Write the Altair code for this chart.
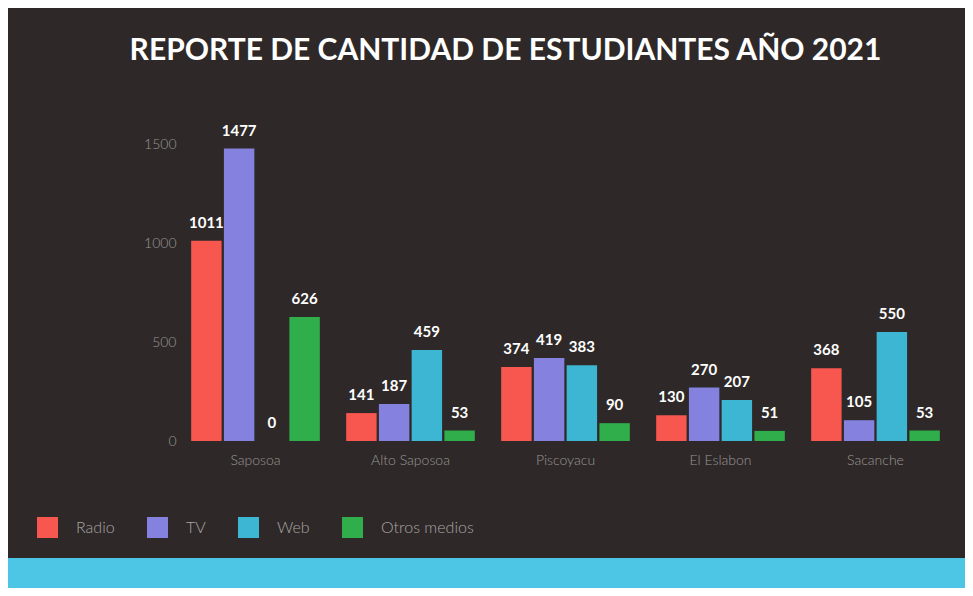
import altair as alt
import pandas as pd

categories = ["Saposoa", "Alto Saposoa", "Piscoyacu", "El Eslabon", "Sacanche"]
series = ["Radio", "TV", "Web", "Otros medios"]
radio = [1011, 141, 374, 130, 368]
tv = [1477, 187, 419, 270, 105]
web = [0, 459, 383, 207, 550]
otros = [626, 53, 90, 51, 53]
colors = ["#f7574f", "#8482de", "#3db6d3", "#2fae4b"]

rows = []
for i, c in enumerate(categories):
    for s, vals in zip(series, [radio, tv, web, otros]):
        rows.append({"Distrito": c, "Medio": s, "Cantidad": vals[i]})
df = pd.DataFrame(rows)

base = alt.Chart(df).encode(
    x=alt.X("Distrito:N", sort=categories,
            scale=alt.Scale(paddingInner=0.17, paddingOuter=0.085),
            axis=alt.Axis(title=None, labelAngle=0, labelColor="#9a9696", labelFontSize=14,
                          labelFont="Lato", labelFontWeight=300, labelPadding=12,
                          domain=False, ticks=False, grid=False)),
    xOffset=alt.XOffset("Medio:N", sort=series, scale=alt.Scale(paddingInner=0.07)),
)

bars = base.mark_bar().encode(
    y=alt.Y("Cantidad:Q", scale=alt.Scale(domain=[0, 1500], nice=False),
            axis=alt.Axis(title=None, values=[0, 500, 1000, 1500], format="d",
                          labelColor="#9a9696", labelFontSize=14, labelFont="Lato",
                          labelFontWeight=300, labelPadding=2, domain=False, ticks=False,
                          grid=False)),
    color=alt.Color("Medio:N", sort=series,
                    scale=alt.Scale(domain=series, range=colors),
                    legend=alt.Legend(title=None, orient="none", direction="horizontal",
                                      legendX=-141, legendY=373, symbolType="square",
                                      symbolSize=441, symbolStrokeWidth=0, symbolOpacity=1,
                                      labelColor="#a8a4a4", labelFontSize=16, labelFont="Lato",
                                      labelFontWeight=300, labelOffset=18, columnPadding=32)),
)

labels = base.mark_text(baseline="bottom", dy=-10, color="white", font="Lato",
                        fontWeight="bold", fontSize=15).encode(
    y=alt.Y("Cantidad:Q"),
    text=alt.Text("Cantidad:Q"),
)

strip = alt.Chart(alt.Data(values=[{"a": 1}])).mark_rect(color="#4dc5e4").encode(
    x=alt.value(-175), x2=alt.value(800), y=alt.value(414), y2=alt.value(460)
)

chart = alt.layer(strip, bars, labels).properties(
    width=775, height=297,
    padding={"left": 170, "top": 136, "right": 12, "bottom": 147},
    autosize=alt.AutoSizeParams(type="none"),
    title=alt.Title("REPORTE DE CANTIDAD DE ESTUDIANTES AÑO 2021", color="white",
                    fontSize=30, font="Lato", fontWeight="bold", anchor="middle",
                    dx=-60, offset=58),
).configure(background="#2e2928").configure_view(stroke=None)

chart.save("out.html", embed_options={"renderer": "svg", "actions": False})
